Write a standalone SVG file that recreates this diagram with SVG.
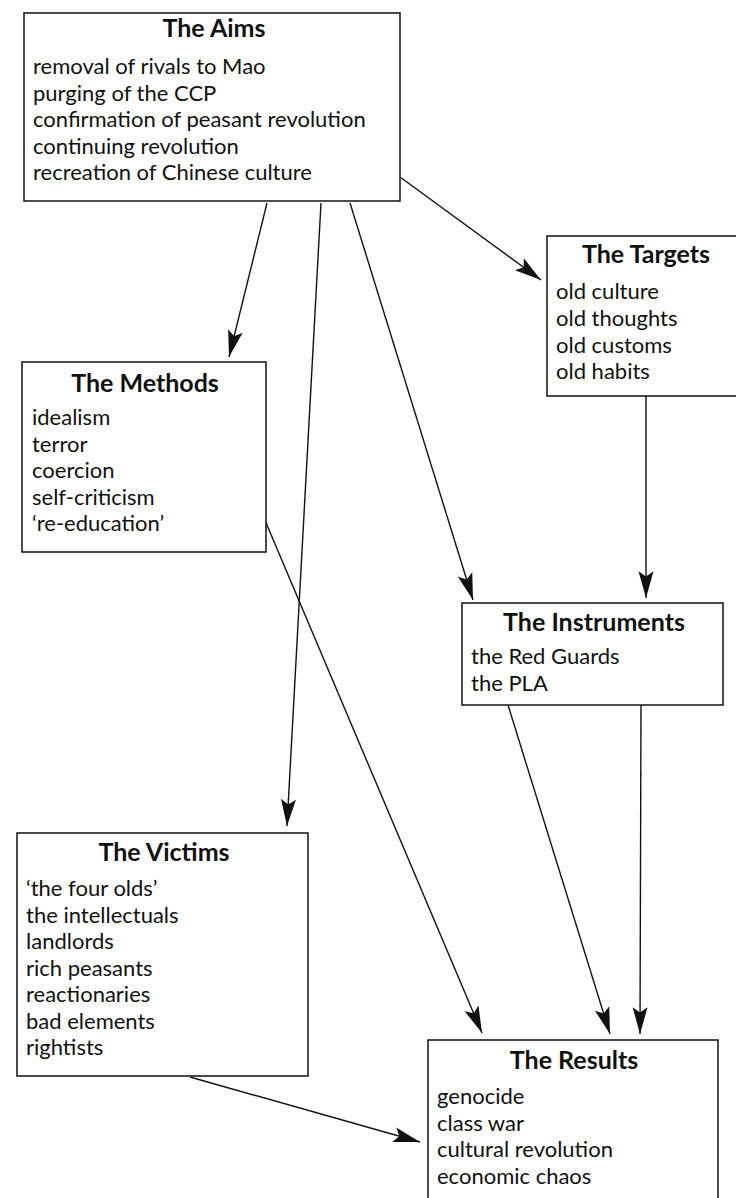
<svg xmlns="http://www.w3.org/2000/svg" width="736" height="1198" viewBox="0 0 736 1198">
<defs>
<style>
.box{fill:#fff;stroke:#111;stroke-width:1.5}
.t{font-family:Lato,"Liberation Sans",sans-serif;font-size:22px;fill:#111}
.h{font-family:Lato,"Liberation Sans",sans-serif;font-size:25px;font-weight:bold;fill:#111;text-anchor:middle}
.c{stroke:#111;stroke-width:1.4;fill:none;marker-end:url(#ah)}
</style>
<marker id="ah" markerUnits="userSpaceOnUse" markerWidth="30" markerHeight="20" viewBox="-1 -8 28 16" refX="25" refY="0" orient="auto">
<path d="M0,-7 L25,0 L0,7 L5,0 Z" fill="#111"/>
</marker>
</defs>
<rect width="736" height="1198" fill="#fff"/>
<g id="connectors">
<line class="c" x1="400" y1="177" x2="541" y2="280"/>
<line class="c" x1="267" y1="203" x2="229" y2="357"/>
<line class="c" x1="321" y1="203" x2="287" y2="826"/>
<line class="c" x1="350" y1="203" x2="473" y2="600"/>
<line class="c" x1="646" y1="396" x2="646" y2="598"/>
<line class="c" x1="264" y1="518" x2="482" y2="1033"/>
<line class="c" x1="508" y1="705" x2="610" y2="1034"/>
<line class="c" x1="641" y1="705" x2="640" y2="1034"/>
<line class="c" x1="190" y1="1077" x2="420" y2="1142"/>
</g>
<g id="aims">
<rect class="box" x="24" y="13" width="376" height="188"/>
<text class="h" x="214" y="37">The Aims</text>
<text class="t" x="33" y="74">removal of rivals to Mao</text>
<text class="t" x="33" y="100.5">purging of the CCP</text>
<text class="t" x="33" y="127">confirmation of peasant revolution</text>
<text class="t" x="33" y="153.5">continuing revolution</text>
<text class="t" x="33" y="180">recreation of Chinese culture</text>
</g>
<g id="targets">
<rect class="box" x="547" y="236" width="200" height="160"/>
<text class="h" x="646" y="263">The Targets</text>
<text class="t" x="556" y="299">old culture</text>
<text class="t" x="556" y="326">old thoughts</text>
<text class="t" x="556" y="353">old customs</text>
<text class="t" x="556" y="379">old habits</text>
</g>
<g id="methods">
<rect class="box" x="22" y="362" width="244" height="190"/>
<text class="h" x="145" y="392">The Methods</text>
<text class="t" x="32" y="425">idealism</text>
<text class="t" x="32" y="451.5">terror</text>
<text class="t" x="32" y="478">coercion</text>
<text class="t" x="32" y="504.5">self-criticism</text>
<text class="t" x="32" y="531">‘re-education’</text>
</g>
<g id="instruments">
<rect class="box" x="462" y="603" width="261" height="102"/>
<text class="h" x="594" y="631">The Instruments</text>
<text class="t" x="471" y="664">the Red Guards</text>
<text class="t" x="471" y="691">the PLA</text>
</g>
<g id="victims">
<rect class="box" x="17" y="833" width="291" height="243"/>
<text class="h" x="164" y="861">The Victims</text>
<text class="t" x="26" y="896">‘the four olds’</text>
<text class="t" x="26" y="922.5">the intellectuals</text>
<text class="t" x="26" y="949">landlords</text>
<text class="t" x="26" y="975.5">rich peasants</text>
<text class="t" x="26" y="1002">reactionaries</text>
<text class="t" x="26" y="1028.5">bad elements</text>
<text class="t" x="26" y="1055">rightists</text>
</g>
<g id="results">
<rect class="box" x="428" y="1040" width="290" height="170"/>
<text class="h" x="574" y="1069">The Results</text>
<text class="t" x="437" y="1104">genocide</text>
<text class="t" x="437" y="1131">class war</text>
<text class="t" x="437" y="1157">cultural revolution</text>
<text class="t" x="437" y="1184">economic chaos</text>
</g>
</svg>
